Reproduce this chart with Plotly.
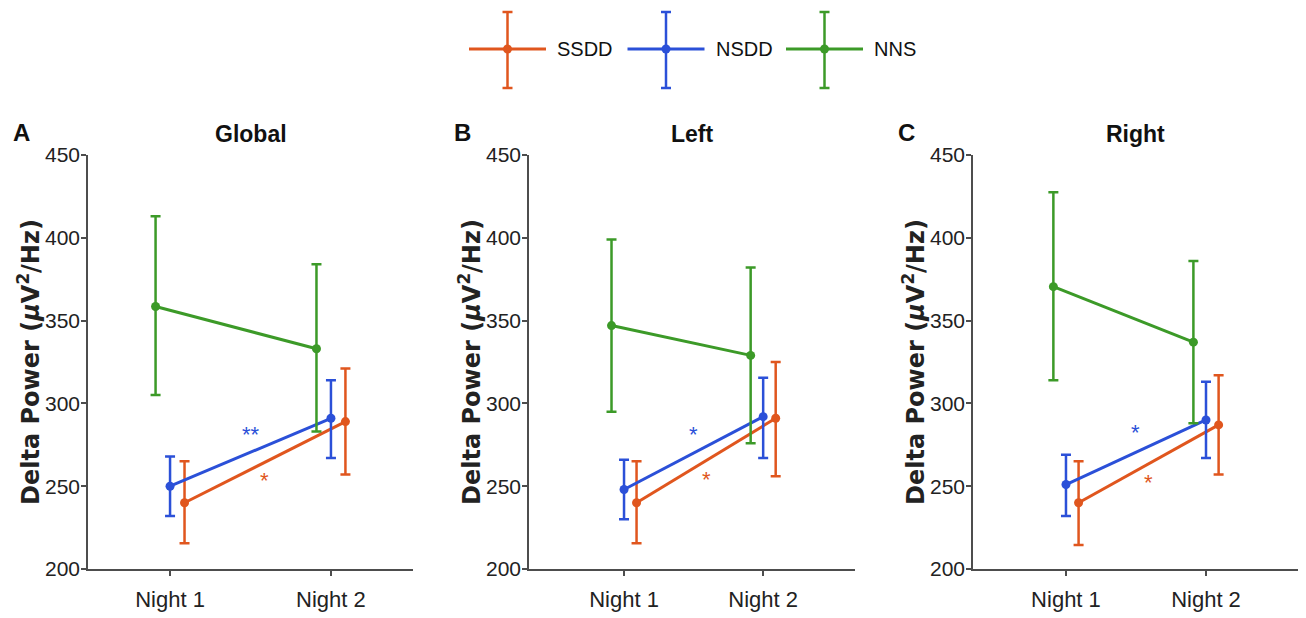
import plotly.graph_objects as go

W, H = 1306, 618

# ---------------- data ----------------
nights = ["Night 1", "Night 2"]
night_pos = [1, 2]
panel_titles = ["Global", "Left", "Right"]
panel_letters = ["A", "B", "C"]
groups = ["SSDD", "NSDD", "NNS"]

# rows: Global, Left, Right ; columns: Night 1, Night 2
ssdd_mean = [[240, 289], [240, 291], [240, 287]]
ssdd_upper = [[265, 321], [265, 325], [265, 317]]
ssdd_lower = [[215.5, 257], [215.5, 256], [214.5, 257]]

nsdd_mean = [[250, 291], [248, 292], [251, 290]]
nsdd_upper = [[268, 314], [266, 315.5], [269, 313]]
nsdd_lower = [[232, 267], [230, 267], [232, 267]]

nns_mean = [[358.5, 333], [347, 329], [370.5, 337]]
nns_upper = [[413, 384], [399, 382], [427.5, 386]]
nns_lower = [[305, 283], [295, 276], [314, 288]]

sig_nsdd = ["**", "*", "*"]
sig_nsdd_y = [283, 283, 284]
sig_ssdd = ["*", "*", "*"]
sig_ssdd_y = [255, 256, 254]
sig_nsdd_x = 1.5
sig_ssdd_x = 1.59

y_ticks = [200, 250, 300, 350, 400, 450]

# ---------------- style ----------------
colors = {"SSDD": "#E0561E", "NSDD": "#2B50D8", "NNS": "#3C9A28"}
dodge = {"SSDD": 0.09, "NSDD": 0.0, "NNS": -0.09}
series = {
    "SSDD": (ssdd_mean, ssdd_upper, ssdd_lower),
    "NSDD": (nsdd_mean, nsdd_upper, nsdd_lower),
    "NNS": (nns_mean, nns_upper, nns_lower),
}
SANS = "Liberation Sans, Arial, Helvetica, sans-serif"
WIDE_BOLD = "DejaVu Sans, Verdana, sans-serif"
AXC = "#4d4d4d"

plot_left = [88, 529, 973]
plot_right = [413, 855, 1298]
plot_top, plot_bottom = 155, 569
x_ranges = [[0.49, 2.51], [0.317, 2.66], [0.336, 2.657]]

fig = go.Figure()

for p in range(3):
    xa = "x" if p == 0 else f"x{p+1}"
    ya = "y" if p == 0 else f"y{p+1}"
    for g in groups:
        mean, up, lo = series[g]
        m = mean[p]
        fig.add_trace(go.Scatter(
            x=[v + dodge[g] for v in night_pos], y=m,
            mode="lines+markers",
            line=dict(color=colors[g], width=3),
            marker=dict(color=colors[g], size=9),
            error_y=dict(type="data", symmetric=False,
                         array=[u - v for u, v in zip(up[p], m)],
                         arrayminus=[v - l for v, l in zip(m, lo[p])],
                         color=colors[g], thickness=2.5, width=5),
            xaxis=xa, yaxis=ya, showlegend=False, name=g,
        ))

layout = dict(
    width=W, height=H,
    margin=dict(l=0, r=0, t=0, b=0),
    template="none",
    plot_bgcolor="white", paper_bgcolor="white",
    showlegend=False,
)
annotations = []
shapes = []
for p in range(3):
    sx = "" if p == 0 else str(p + 1)
    layout[f"xaxis{sx}"] = dict(
        domain=[plot_left[p] / W, plot_right[p] / W],
        range=x_ranges[p], tickvals=night_pos, ticktext=nights,
        showgrid=False, zeroline=False, showline=True, linecolor=AXC, linewidth=1.5,
        ticks="outside", ticklen=5, tickwidth=1.5, tickcolor=AXC,
        tickfont=dict(family=SANS, size=22, color="#222"),
        ticklabelstandoff=5,
        anchor=f"y{sx}", automargin=False, fixedrange=True,
    )
    layout[f"yaxis{sx}"] = dict(
        domain=[1 - plot_bottom / H, 1 - plot_top / H],
        range=[200, 450], tickvals=y_ticks,
        showgrid=False, zeroline=False, showline=True, linecolor=AXC, linewidth=1.5,
        ticks="outside", ticklen=5, tickwidth=1.5, tickcolor=AXC,
        tickfont=dict(family=SANS, size=21, color="#222"),
        ticklabelstandoff=-3,
        anchor=f"x{sx}", automargin=False, fixedrange=True,
    )
    xr = "x" + sx
    yr = "y" + sx
    # y-axis title
    annotations.append(dict(
        text="Delta Power (<i>μ</i>V<sup>2</sup>/Hz)", textangle=-90,
        xref=f"{xr} domain", yref=f"{yr} domain", x=0, y=0.5, xshift=-59,
        xanchor="center", yanchor="middle", showarrow=False,
        font=dict(family=WIDE_BOLD, size=24, color="#222", weight="bold"),
    ))
    # panel title
    annotations.append(dict(
        text=f"<b>{panel_titles[p]}</b>", xref=f"{xr} domain", yref=f"{yr} domain",
        x=0.5, y=1, yshift=21, xanchor="center", yanchor="middle", showarrow=False,
        font=dict(family=SANS, size=23, color="#111"),
    ))
    # panel letter
    annotations.append(dict(
        text=f"<b>{panel_letters[p]}</b>", xref=f"{xr} domain", yref=f"{yr} domain",
        x=0, y=1, xshift=-67, yshift=22, xanchor="center", yanchor="middle", showarrow=False,
        font=dict(family=SANS, size=24, color="#111"),
    ))
    # significance marks
    annotations.append(dict(
        text=sig_nsdd[p], xref=xr, yref=yr, x=sig_nsdd_x, y=sig_nsdd_y[p], yshift=-3,
        xanchor="center", yanchor="middle", showarrow=False,
        font=dict(family=SANS, size=22, color=colors["NSDD"]),
    ))
    annotations.append(dict(
        text=sig_ssdd[p], xref=xr, yref=yr, x=sig_ssdd_x, y=sig_ssdd_y[p], yshift=-3,
        xanchor="center", yanchor="middle", showarrow=False,
        font=dict(family=SANS, size=22, color=colors["SSDD"]),
    ))

# ---------------- custom legend (line + error bar glyph) ----------------
def px(x):
    return x / W


def py(y):
    return 1 - y / H


leg_x0, leg_step, leg_y = 469, 158.5, 49
for i, g in enumerate(groups):
    c = colors[g]
    x0 = leg_x0 + i * leg_step
    xc = x0 + 38.5
    shapes.append(dict(type="line", xref="paper", yref="paper", x0=px(x0), x1=px(x0 + 77),
                       y0=py(leg_y), y1=py(leg_y), line=dict(color=c, width=3)))
    shapes.append(dict(type="line", xref="paper", yref="paper", x0=px(xc), x1=px(xc),
                       y0=py(12), y1=py(88), line=dict(color=c, width=2.5)))
    for yy in (12, 88):
        shapes.append(dict(type="line", xref="paper", yref="paper", x0=px(xc - 5), x1=px(xc + 5),
                           y0=py(yy), y1=py(yy), line=dict(color=c, width=2.5)))
    shapes.append(dict(type="circle", xref="paper", yref="paper", x0=px(xc - 4.5), x1=px(xc + 4.5),
                       y0=py(leg_y + 4.5), y1=py(leg_y - 4.5), fillcolor=c, line=dict(color=c, width=0)))
    annotations.append(dict(text=g, xref="paper", yref="paper", x=px(x0 + 86), y=py(leg_y),
                            xanchor="left", yanchor="middle", showarrow=False,
                            font=dict(family=SANS, size=20, color="#111")))

layout["annotations"] = annotations
layout["shapes"] = shapes
fig.update_layout(**layout)
fig.write_html("out.html")
